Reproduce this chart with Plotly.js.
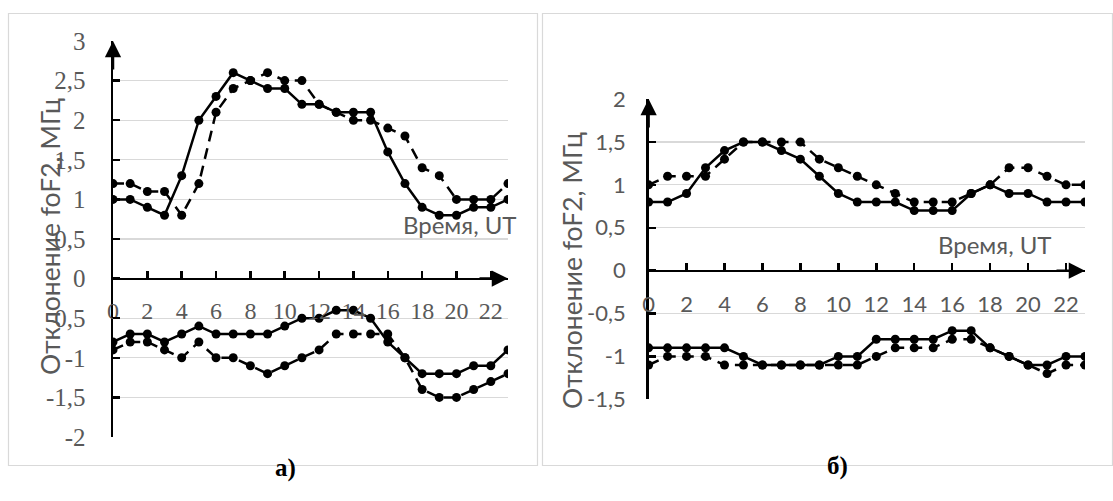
<!DOCTYPE html>
<html><head><meta charset="utf-8">
<script src="https://cdn.plot.ly/plotly-3.0.1.min.js"></script>
<style>html,body{margin:0;padding:0;background:#fff}#chart{width:1113px;height:501px}</style>
</head><body><div id="chart"></div><script>
// ---------- data ----------
const hours = [0,1,2,3,4,5,6,7,8,9,10,11,12,13,14,15,16,17,18,19,20,21,22,23];

// panel а)
const aUpperSolid  = [1.0,1.0,0.9,0.8,1.3,2.0,2.3,2.6,2.5,2.4,2.4,2.2,2.2,2.1,2.1,2.1,1.6,1.2,0.9,0.8,0.8,0.9,0.9,1.0];
const aUpperDashed = [1.2,1.2,1.1,1.1,0.8,1.2,2.1,2.4,2.5,2.6,2.5,2.5,2.2,2.1,2.0,2.0,1.9,1.8,1.4,1.3,1.0,1.0,1.0,1.2];
const aLowerSolid  = [-0.8,-0.7,-0.7,-0.8,-0.7,-0.6,-0.7,-0.7,-0.7,-0.7,-0.6,-0.5,-0.5,-0.4,-0.4,-0.5,-0.8,-1.0,-1.2,-1.2,-1.2,-1.1,-1.1,-0.9];
const aLowerDashed = [-0.9,-0.8,-0.8,-0.9,-1.0,-0.8,-1.0,-1.0,-1.1,-1.2,-1.1,-1.0,-0.9,-0.7,-0.7,-0.7,-0.7,-1.0,-1.4,-1.5,-1.5,-1.4,-1.3,-1.2];

// panel б)
const bUpperSolid  = [0.8,0.8,0.9,1.2,1.4,1.5,1.5,1.4,1.3,1.1,0.9,0.8,0.8,0.8,0.7,0.7,0.7,0.9,1.0,0.9,0.9,0.8,0.8,0.8];
const bUpperDashed = [1.0,1.1,1.1,1.1,1.3,1.5,1.5,1.5,1.5,1.3,1.2,1.1,1.0,0.9,0.8,0.8,0.8,0.9,1.0,1.2,1.2,1.1,1.0,1.0];
const bLowerSolid  = [-0.9,-0.9,-0.9,-0.9,-0.9,-1.0,-1.1,-1.1,-1.1,-1.1,-1.0,-1.0,-0.8,-0.8,-0.8,-0.8,-0.7,-0.7,-0.9,-1.0,-1.1,-1.1,-1.0,-1.0];
const bLowerDashed = [-1.1,-1.0,-1.0,-1.0,-1.1,-1.1,-1.1,-1.1,-1.1,-1.1,-1.1,-1.1,-1.0,-0.9,-0.9,-0.9,-0.8,-0.8,-0.9,-1.0,-1.1,-1.2,-1.1,-1.1];

// ticks
const xTickVals = [0,2,4,6,8,10,12,14,16,18,20,22];
const xTickText = ['0','2','4','6','8','10','12','14','16','18','20','22'];
const aYTickVals = [-2,-1.5,-1,-0.5,0,0.5,1,1.5,2,2.5,3];
const aYTickText = ['-2','-1,5','-1','-0,5','0','0,5','1','1,5','2','2,5','3'];
const bYTickVals = [-1.5,-1,-0.5,0,0.5,1,1.5,2];
const bYTickText = ['-1,5','-1','-0,5','0','0,5','1','1,5','2'];

const yTitle = 'Отклонение foF2, МГц';
const xTitle = 'Время, UT';
const captions = ['а)', 'б)'];

// ---------- layout helpers ----------
const W = 1113, H = 501;
const px = v => v / W;
const py = v => 1 - v / H;

const aDomX = [px(113), px(508)], aDomY = [py(437), py(41)], aRange = [-2, 3];
const bDomX = [px(648.6), px(1085)], bDomY = [py(399.3), py(99.1)], bRange = [-1.5, 2];
const zeroPos = (dom, r) => dom[0] + (0 - r[0]) / (r[1] - r[0]) * (dom[1] - dom[0]);

const serif = 'Liberation Serif';
const sans = 'Lato';
const gray = '#595959';

function trace(y, xa, ya, dashed) {
  return {
    x: hours, y: y, xaxis: xa, yaxis: ya, type: 'scatter', mode: 'lines+markers',
    line: {color: '#000', width: 2.5, dash: dashed ? '11px,7px' : 'solid'},
    marker: {color: '#000', size: 9},
    showlegend: false, hoverinfo: 'skip'
  };
}

const data = [
  trace(aUpperSolid, 'x', 'y', false),
  trace(aUpperDashed, 'x', 'y', true),
  trace(aLowerSolid, 'x', 'y', false),
  trace(aLowerDashed, 'x', 'y', true),
  trace(bUpperSolid, 'x2', 'y2', false),
  trace(bUpperDashed, 'x2', 'y2', true),
  trace(bLowerSolid, 'x2', 'y2', false),
  trace(bLowerDashed, 'x2', 'y2', true)
];

function xAxis(dom, yDom, yR, font, standoff) {
  return {
    domain: dom, range: [0, 23], anchor: 'free', position: zeroPos(yDom, yR),
    showline: true, linecolor: '#000', linewidth: 2.5,
    ticks: 'inside', ticklen: 7, tickwidth: 2.5, tickcolor: '#000',
    tickvals: xTickVals, ticktext: xTickText,
    tickfont: font, ticklabelstandoff: standoff,
    showgrid: false, zeroline: false, fixedrange: true
  };
}
function yAxis(dom, xa, r, vals, text, font, standoff) {
  return {
    domain: dom, anchor: xa, range: r,
    showline: true, linecolor: '#000', linewidth: 2.5,
    ticks: 'inside', ticklen: 7, tickwidth: 2.5, tickcolor: '#000',
    tickvals: vals, ticktext: text, tickfont: font, ticklabelstandoff: standoff,
    showgrid: true, gridcolor: '#d9d9d9', gridwidth: 1.2,
    zeroline: false, fixedrange: true
  };
}

const serifYFont = {family: serif, size: 25, color: gray};
const serifXFont = {family: serif, size: 24, color: gray};
const sansFont = {family: sans, size: 22, color: gray};

function arrow(xref, yref, x, y, axOff, ayOff) {
  return {xref: xref, yref: yref, x: x, y: y, ax: axOff, ay: ayOff, text: '',
    showarrow: true, arrowhead: 2, arrowsize: 1.3, arrowwidth: 2.5, arrowcolor: '#000', standoff: 0};
}

const annotations = [
  arrow('x', 'y', 0, 3, 0, 30),
  arrow('x', 'y', 23, 0, -30, 0),
  arrow('x2', 'y2', 0, 2, 0, 30),
  arrow('x2', 'y2', 23, 0, -30, 0),
  {xref: 'paper', yref: 'paper', x: px(32), y: py(237), text: yTitle, textangle: -90,
   showarrow: false, font: {family: sans, size: 26.5, color: gray}},
  {xref: 'paper', yref: 'paper', x: px(572), y: py(271), text: yTitle, textangle: -90,
   showarrow: false, font: {family: sans, size: 26.5, color: gray}},
  {xref: 'paper', yref: 'paper', x: px(460), y: py(224), text: xTitle,
   showarrow: false, font: {family: sans, size: 24, color: gray}},
  {xref: 'paper', yref: 'paper', x: px(1054), y: py(244), text: xTitle,
   showarrow: false, font: {family: sans, size: 24, color: gray}},
  {xref: 'paper', yref: 'paper', x: px(273), y: py(484), text: '<b>' + captions[0] + '</b>',
   showarrow: false, font: {family: serif, size: 25, color: '#000'}},
  {xref: 'paper', yref: 'paper', x: px(850), y: py(482), text: '<b>' + captions[1] + '</b>',
   showarrow: false, font: {family: serif, size: 25, color: '#000'}}
];

const shapes = [
  {type: 'rect', xref: 'paper', yref: 'paper', x0: px(8.5), x1: px(537.5), y0: py(465.5), y1: py(13.5),
   line: {color: '#d9d9d9', width: 1.2}},
  {type: 'rect', xref: 'paper', yref: 'paper', x0: px(542.5), x1: px(1112.5), y0: py(465.5), y1: py(13.5),
   line: {color: '#d9d9d9', width: 1.2}}
];

const layout = {
  width: W, height: H, margin: {l: 0, r: 0, t: 0, b: 0},
  paper_bgcolor: '#fff', plot_bgcolor: 'rgba(0,0,0,0)',
  separators: ', ', showlegend: false,
  xaxis: xAxis(aDomX, aDomY, aRange, serifXFont, 10),
  yaxis: yAxis(aDomY, 'x', aRange, aYTickVals, aYTickText, serifYFont, 20),
  xaxis2: xAxis(bDomX, bDomY, bRange, sansFont, 13),
  yaxis2: yAxis(bDomY, 'x2', bRange, bYTickVals, bYTickText, sansFont, 16),
  annotations: annotations, shapes: shapes
};

Plotly.newPlot('chart', data, layout, {staticPlot: true, displayModeBar: false});
</script></body></html>
